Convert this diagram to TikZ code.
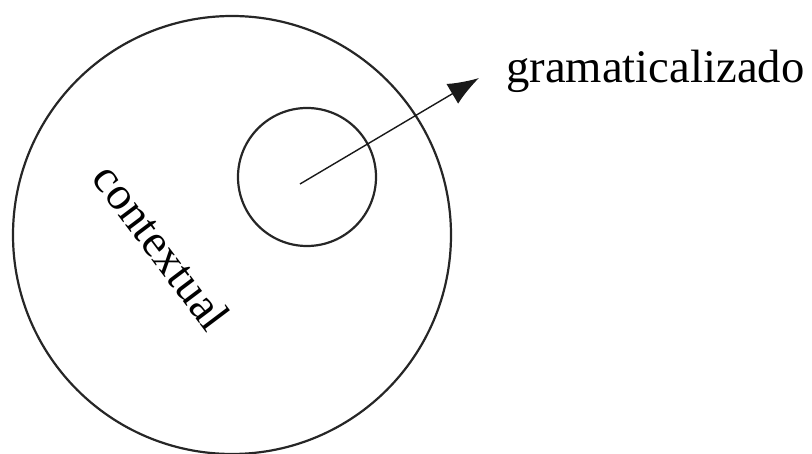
\documentclass[tikz,border=0pt]{standalone}
\usepackage{fontspec}
\setmainfont{Liberation Serif}
\usepackage{tikz}
\usetikzlibrary{arrows.meta,positioning}

\begin{document}
\begin{tikzpicture}[
  x=1pt, y=1pt,
  ring/.style={draw=black!85, circle, line width=2.2pt, inner sep=0pt},
  arrow/.style={-{Latex[length=31pt, width=23pt]}, line width=1.4pt, draw=black!90},
  lbl/.style={font=\fontsize{46.7}{50}\selectfont, inner sep=0pt},
]
  \useasboundingbox (0,0) rectangle (812,453);
  \node[ring, minimum size=438pt] (outer) at (232,218) {};
  \node[ring, minimum size=138pt] (inner) at (307,276) {};
  \node[lbl, rotate=-53] (context) at (162,206) {contextual};
  \node[lbl, anchor=base west] (gram) at (506,370) {gramaticalizado};

  \coordinate (from) at (300,269);
  \coordinate (to) at (479,375);
  \draw[arrow] (from) -- (to);
\end{tikzpicture}
\end{document}
